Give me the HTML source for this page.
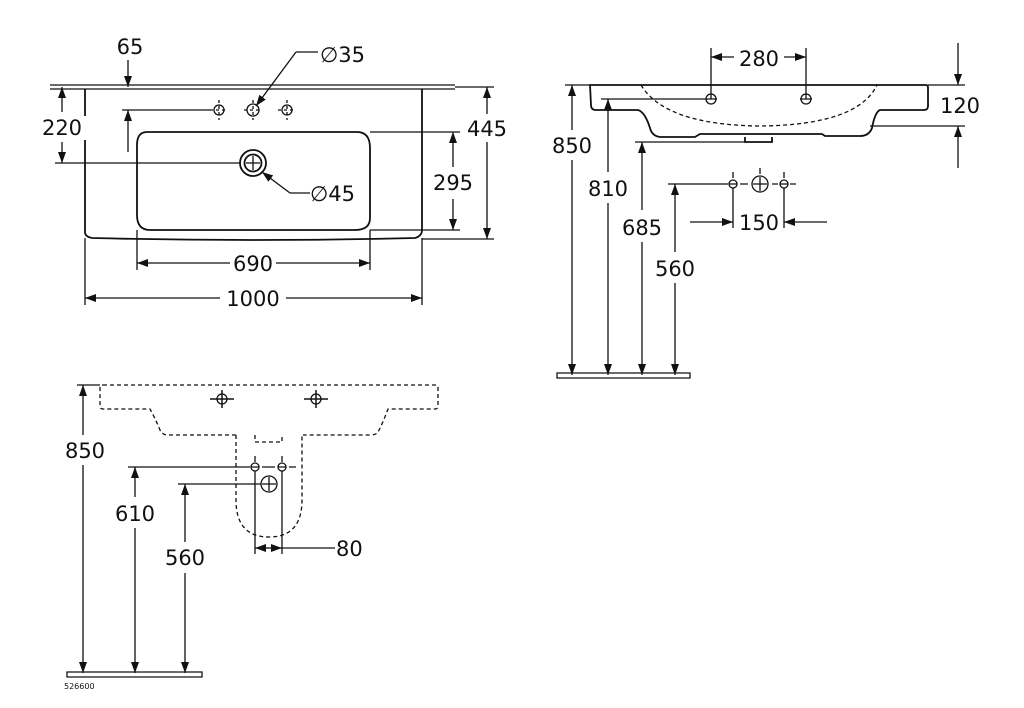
<!DOCTYPE html>
<html><head><meta charset="utf-8"><style>
html,body{margin:0;padding:0;background:#fff}
svg{display:block}
text{font-family:"DejaVu Sans","Liberation Sans",sans-serif;font-size:21px;fill:#111}
</style></head><body>
<svg width="1024" height="708" viewBox="0 0 1024 708" xmlns="http://www.w3.org/2000/svg">
<defs>
<marker id="a" viewBox="0 0 11 8" refX="11" refY="4" markerWidth="11" markerHeight="8" markerUnits="userSpaceOnUse" orient="auto-start-reverse"><path d="M0,0 L11,4 L0,8 Z" fill="#111"/></marker>
</defs>
<g stroke="#111" fill="none" stroke-width="1.3">
<path d="M50,85 H455 M50,89 H455" />
<path d="M85,89 V233 Q86,237 92,238 Q250,242 415,238 Q422,236 422,230 V89" stroke-width="1.8"/>
<path d="M147,132 H357 Q370,132 370,148 V218 Q370,230 355,230 H150 Q137,230 137,215 V145 Q137,132 147,132 Z" stroke-width="1.8"/>
<circle cx="253" cy="163" r="13" stroke-width="1.8"/>
<circle cx="253" cy="163" r="8.5" stroke-width="1.8"/>
<path d="M246,163 H260 M253,156 V170"/>
<g>
<circle cx="219" cy="110" r="5"/><circle cx="253" cy="110" r="6"/><circle cx="287" cy="110" r="5"/>
<path d="M210,110 H228 M219,100 V120 M244,110 H262 M253,100 V120 M278,110 H296 M287,100 V120" stroke-dasharray="3,3"/>
</g>
<path d="M62,87 V112" marker-start="url(#a)"/><path d="M62,142 V163" marker-end="url(#a)"/>
<path d="M55,163 H240"/>
<path d="M128,60 V87" marker-end="url(#a)"/><path d="M128,152 V110" marker-end="url(#a)"/>
<path d="M122,110 H210"/>
<path d="M296,52 L256,106" marker-end="url(#a)"/><path d="M296,52 H318"/>
<path d="M290,193 L262,172" marker-end="url(#a)"/><path d="M290,193 H310"/>
<path d="M370,132 H460 M370,230 H460"/>
<path d="M453,167 V132" marker-end="url(#a)"/><path d="M453,199 V230" marker-end="url(#a)"/>
<path d="M455,87 H494 M422,239 H494"/>
<path d="M487,114 V87" marker-end="url(#a)"/><path d="M487,142 V239" marker-end="url(#a)"/>
<path d="M137,230 V270 M370,230 V270"/>
<path d="M230,263 H137" marker-end="url(#a)"/><path d="M276,263 H370" marker-end="url(#a)"/>
<path d="M85,238 V305 M422,238 V305"/>
<path d="M220,298 H85" marker-end="url(#a)"/><path d="M286,298 H422" marker-end="url(#a)"/>

<path d="M590,85 H926 Q928,85 928,88 V106 Q928,110 924,110 H880 Q875,112 872,128 Q869,136 860,136 H825 L822,134 H700 L695,137 H660 Q652,136 650,128 Q645,112 638,110 H596 Q591,110 591,105 Z" stroke-width="1.8"/>
<path d="M745,137 V142 H772 V137" stroke-width="1.8"/>
<path d="M641,85 Q665,125 760,126 Q858,125 877,85" stroke-dasharray="4,3" stroke-width="1.3"/>
<circle cx="711" cy="99" r="5"/><circle cx="806" cy="99" r="5"/>
<path d="M705,99 H717 M800,99 H812"/>
<path d="M711,48 V99 M806,48 V99"/>
<path d="M734,57 H711" marker-end="url(#a)"/><path d="M784,57 H806" marker-end="url(#a)"/>
<path d="M928,85 H965 M870,126 H965"/>
<path d="M958,43 V85" marker-end="url(#a)"/><path d="M958,168 V126" marker-end="url(#a)"/>
<path d="M565,85 H590"/>
<path d="M572,130 V85" marker-end="url(#a)"/><path d="M572,160 V375" marker-end="url(#a)"/>
<path d="M601,99 H705"/>
<path d="M608,172 V99" marker-end="url(#a)"/><path d="M608,203 V375" marker-end="url(#a)"/>
<path d="M635,142 H745"/>
<path d="M642,210 V142" marker-end="url(#a)"/><path d="M642,242 V375" marker-end="url(#a)"/>
<path d="M668,184 H728"/>
<path d="M675,252 V184" marker-end="url(#a)"/><path d="M675,283 V375" marker-end="url(#a)"/>
<circle cx="733" cy="184" r="4"/><circle cx="760" cy="184" r="8"/><circle cx="784" cy="184" r="4"/>
<path d="M729,184 H737 M780,184 H788 M753,184 H767 M760,177 V191"/>
<path d="M740,184 H748 M772,184 H778 M790,184 H796 M733,172 V178 M784,172 V178 M760,168 V174" />
<path d="M733,188 V228 M784,188 V228"/>
<path d="M690,222 H733" marker-end="url(#a)"/><path d="M827,222 H784" marker-end="url(#a)"/>
<path d="M557,373 H690 V378 H557 Z"/>

<g stroke-dasharray="4,3" stroke-width="1.3">
<path d="M103,385 H436 Q438,385 438,388 V406 Q438,409 435,409 H388 Q382,425 378,432 Q376,435 370,435 H303 M236,435 H168 Q162,435 160,430 Q155,418 150,409 H103 Q100,409 100,406 V388 Q100,385 103,385"/>
<path d="M236,435 V500 Q236,537 269,537 Q302,537 302,500 V435"/>
<path d="M255,435 V442 H282 V435"/>
</g>
<circle cx="222" cy="399" r="5"/><circle cx="316" cy="399" r="5"/>
<path d="M210,399 H234 M222,390 V408 M304,399 H328 M316,390 V408" stroke-width="1.5"/>
<circle cx="255" cy="467" r="4"/><circle cx="282" cy="467" r="4"/><circle cx="269" cy="484" r="8"/>
<path d="M251,467 H259 M278,467 H286 M262,484 H276 M269,477 V491 M255,456 V462 M282,456 V462 M289,467 H296 M262,467 H275"/>
<path d="M77,385 H100"/>
<path d="M83,435 V385" marker-end="url(#a)"/><path d="M83,465 V673" marker-end="url(#a)"/>
<path d="M128,467 H250"/>
<path d="M135,497 V467" marker-end="url(#a)"/><path d="M135,528 V673" marker-end="url(#a)"/>
<path d="M178,484 H261"/>
<path d="M185,542 V484" marker-end="url(#a)"/><path d="M185,573 V673" marker-end="url(#a)"/>
<path d="M255,471 V554 M282,471 V554"/>
<path d="M268,548 H255" marker-end="url(#a)"/><path d="M268,548 H282" marker-end="url(#a)"/>
<path d="M282,548 H335"/>
<path d="M67,672 H202 V677 H67 Z"/>
</g>
<g>
<rect x="38" y="116" width="48" height="24" fill="#fff"/>
<text x="62" y="135" text-anchor="middle">220</text>
<text x="130" y="54" text-anchor="middle">65</text>
<text x="320" y="62">∅35</text>
<text x="310" y="201">∅45</text>
<rect x="428" y="170" width="50" height="24" fill="#fff"/>
<text x="453" y="190" text-anchor="middle">295</text>
<rect x="462" y="116" width="50" height="24" fill="#fff"/>
<text x="487" y="136" text-anchor="middle">445</text>
<text x="253" y="271" text-anchor="middle">690</text>
<text x="253" y="306" text-anchor="middle">1000</text>
<text x="759" y="66" text-anchor="middle">280</text>
<text x="960" y="113" text-anchor="middle">120</text>
<text x="572" y="153" text-anchor="middle">850</text>
<text x="608" y="196" text-anchor="middle">810</text>
<text x="642" y="235" text-anchor="middle">685</text>
<text x="675" y="276" text-anchor="middle">560</text>
<text x="759" y="230" text-anchor="middle">150</text>
<text x="85" y="458" text-anchor="middle">850</text>
<text x="135" y="521" text-anchor="middle">610</text>
<text x="185" y="565" text-anchor="middle">560</text>
<text x="336" y="556">80</text>
<text x="64" y="689" style="font-size:8px">526600</text>
</g>
</svg>
</body></html>
